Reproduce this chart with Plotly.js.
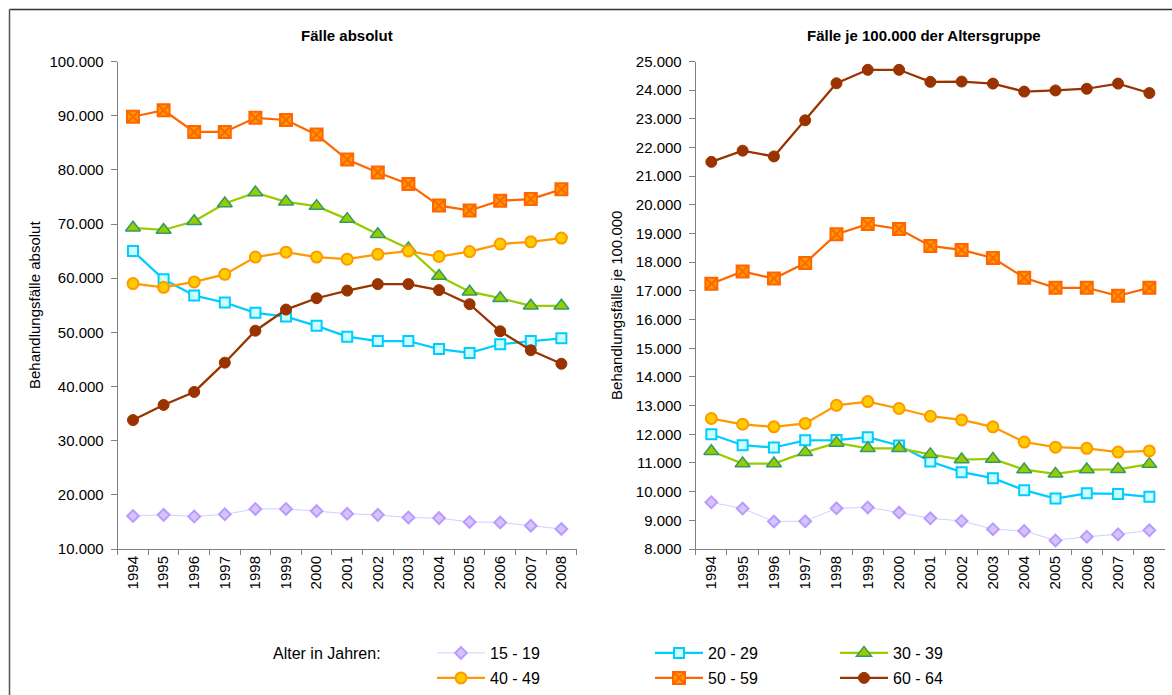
<!DOCTYPE html>
<html>
<head>
<meta charset="utf-8">
<script src="https://cdn.plot.ly/plotly-3.0.1.min.js"></script>
<style>html,body{margin:0;padding:0;background:#fff;overflow:hidden;}#chart{width:1172px;height:695px;}</style>
</head>
<body>
<div id="chart"></div>
<script>
const years = ['1994','1995','1996','1997','1998','1999','2000','2001','2002','2003','2004','2005','2006','2007','2008'];
const seriesNames = ['15 - 19','20 - 29','30 - 39','40 - 49','50 - 59','60 - 64'];

// Fälle absolut
const abs_15_19 = [16100,16300,16000,16400,17400,17400,17000,16500,16300,15800,15700,15000,14900,14300,13700];
const abs_20_29 = [65000,59800,56800,55500,53600,52900,51200,49200,48400,48400,46900,46200,47800,48400,48900];
const abs_30_39 = [69300,68900,70500,73800,75800,74100,73300,70900,68100,65500,60400,57500,56300,54900,54900];
const abs_40_49 = [59000,58300,59300,60700,63900,64800,63900,63500,64400,65000,64000,64900,66300,66700,67400];
const abs_50_59 = [89800,91000,87000,87000,89600,89200,86500,81900,79500,77400,73400,72500,74300,74600,76400];
const abs_60_64 = [33800,36600,39000,44400,50300,54200,56300,57700,58900,58900,57800,55200,50200,46700,44200];

// Fälle je 100.000 der Altersgruppe
const rate_15_19 = [9630,9410,8960,8970,9420,9450,9270,9070,8980,8690,8630,8300,8430,8510,8650];
const rate_20_29 = [12000,11620,11540,11790,11800,11900,11610,11050,10680,10470,10050,9760,9940,9920,9820];
const rate_30_39 = [11410,10980,10980,11370,11700,11510,11510,11300,11120,11140,10770,10620,10770,10780,10960];
const rate_40_49 = [12550,12350,12260,12380,13010,13140,12900,12630,12500,12260,11730,11550,11510,11380,11420];
const rate_50_59 = [17250,17680,17430,17970,18980,19330,19160,18570,18430,18150,17460,17110,17110,16830,17110];
const rate_60_64 = [21500,21890,21690,22950,24240,24710,24710,24290,24300,24230,23950,23990,24050,24230,23900];

const absData = [abs_15_19, abs_20_29, abs_30_39, abs_40_49, abs_50_59, abs_60_64];
const rateData = [rate_15_19, rate_20_29, rate_30_39, rate_40_49, rate_50_59, rate_60_64];

const styles = [
  {line:{color:'#d0d0ff', width:1}, marker:{symbol:'diamond', size:9, color:'#d4c4ff', line:{color:'#bb99ff', width:2}}},
  {line:{color:'#00ccff', width:2.25}, marker:{symbol:'square', size:10, color:'#ccffff', line:{color:'#00ccff', width:2}}},
  {line:{color:'#99cc00', width:2.25}, marker:{symbol:'triangle-up', size:13, color:'#99cc00', line:{color:'#339966', width:1.5}}},
  {line:{color:'#ff9900', width:2.25}, marker:{symbol:'circle', size:11, color:'#ffcc00', line:{color:'#ff9900', width:2}}},
  {line:{color:'#ff6600', width:2.25}, marker:{symbol:'square-x', size:12, color:'#ff9900', line:{color:'#ff6600', width:2}}},
  {line:{color:'#993300', width:2.25}, marker:{symbol:'circle', size:11, color:'#993300', line:{color:'#993300', width:1}}}
];
const legendIds = ['legend','legend2','legend3','legend4','legend5','legend6'];

const traces = [];
seriesNames.forEach((n,i)=>{
  traces.push({x:years, y:absData[i], name:n, type:'scatter', mode:'lines+markers',
    xaxis:'x', yaxis:'y', line:styles[i].line, marker:styles[i].marker,
    legend:legendIds[i], showlegend:true, hoverinfo:'x+y+name'});
});
seriesNames.forEach((n,i)=>{
  traces.push({x:years, y:rateData[i], name:n, type:'scatter', mode:'lines+markers',
    xaxis:'x2', yaxis:'y2', line:styles[i].line, marker:styles[i].marker,
    showlegend:false, hoverinfo:'x+y+name'});
});

const W = 1172, H = 695;
const px = v => v / W;
const py = v => 1 - v / H;
const F = 'Liberation Sans, Arial, sans-serif';

const axisX = {
  type:'category', range:[-0.5,14.5], showgrid:false, zeroline:false,
  showline:true, linecolor:'#808080', linewidth:1,
  ticks:'outside', tickson:'boundaries', ticklen:5, tickcolor:'#808080',
  tickangle:-90, tickfont:{family:F, size:15, color:'#000'}, fixedrange:true
};
const axisY = {
  showgrid:false, zeroline:false, showline:true, linecolor:'#808080', linewidth:1,
  ticks:'outside', ticklen:6, tickcolor:'#808080', tickformat:',d',
  tickfont:{family:F, size:15, color:'#000'}, fixedrange:true, ticklabelstandoff:4
};

const legCols = [436, 654, 839];
const legRows = [653, 678];
const legendBase = {orientation:'v', xanchor:'left', yanchor:'middle', bgcolor:'rgba(0,0,0,0)',
  borderwidth:0, font:{family:F, size:16, color:'#000'}, itemwidth:48, itemclick:false, itemdoubleclick:false};

const layout = {
  width:W, height:H, margin:{l:0,r:0,t:0,b:0}, paper_bgcolor:'#fff', plot_bgcolor:'rgba(0,0,0,0)',
  separators:',.', showlegend:true, font:{family:F, color:'#000'},
  xaxis:Object.assign({}, axisX, {domain:[px(117.7), px(576.7)], anchor:'y'}),
  yaxis:Object.assign({}, axisY, {domain:[py(549), py(61.5)], range:[10000,100000], dtick:10000, anchor:'x',
    title:{text:'Behandlungsfälle absolut', font:{family:F, size:15, color:'#000'}, standoff:5}}),
  xaxis2:Object.assign({}, axisX, {domain:[px(695.7), px(1165)], anchor:'y2'}),
  yaxis2:Object.assign({}, axisY, {domain:[py(549), py(61.5)], range:[8000,25000], dtick:1000, anchor:'x2',
    title:{text:'Behandlungsfälle je 100.000', font:{family:F, size:15, color:'#000'}, standoff:9}}),
  annotations:[
    {text:'<b>Fälle absolut</b>', xref:'paper', yref:'paper', x:px(347), y:py(35), xanchor:'center', yanchor:'middle',
     showarrow:false, font:{family:F, size:15, color:'#000'}},
    {text:'<b>Fälle je 100.000 der Altersgruppe</b>', xref:'paper', yref:'paper', x:px(924), y:py(35), xanchor:'center', yanchor:'middle',
     showarrow:false, font:{family:F, size:15, color:'#000'}},
    {text:'Alter in Jahren:', xref:'paper', yref:'paper', x:px(271), y:py(653), xanchor:'left', yanchor:'middle',
     showarrow:false, font:{family:F, size:16, color:'#000'}}
  ],
  shapes:[
    {type:'line', xref:'paper', yref:'paper', x0:px(9.5), x1:1, y0:py(9.5), y1:py(9.5), line:{color:'#333', width:1.5}},
    {type:'line', xref:'paper', yref:'paper', x0:px(9.5), x1:px(9.5), y0:py(9.5), y1:0, line:{color:'#555', width:1.5}}
  ]
};
legendIds.forEach((id,i)=>{
  layout[id] = Object.assign({}, legendBase, {x:px(legCols[i%3]-4), y:py(legRows[Math.floor(i/3)])});
});

Plotly.newPlot('chart', traces, layout, {displayModeBar:false, staticPlot:true});
</script>
</body>
</html>
